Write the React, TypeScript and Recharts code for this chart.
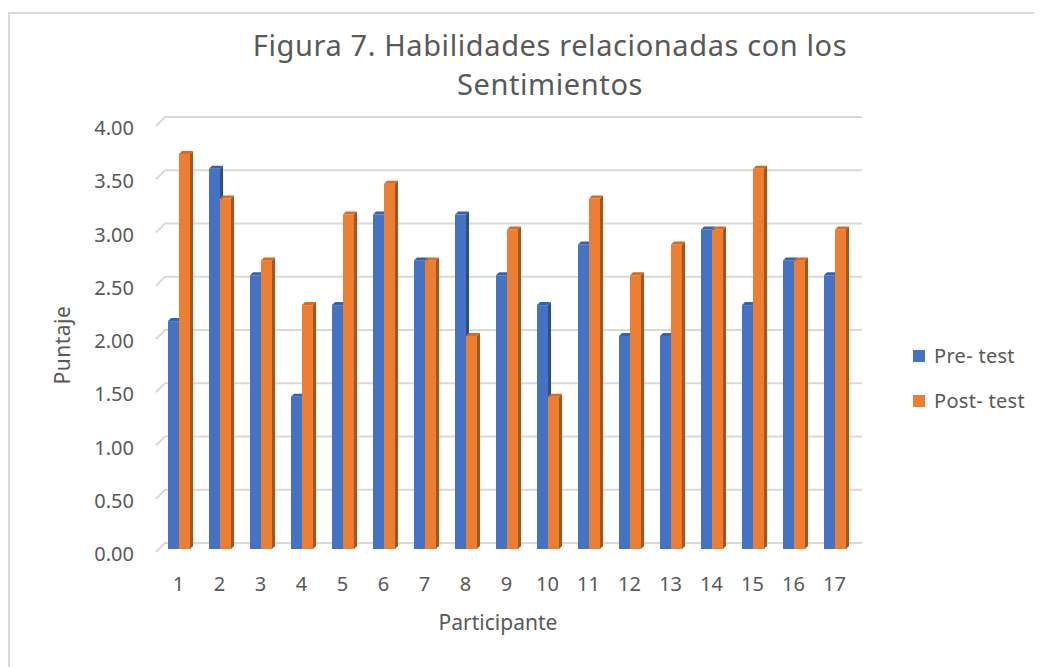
import { BarChart, Bar, XAxis, YAxis, CartesianGrid } from 'recharts';

const participants = ['1', '2', '3', '4', '5', '6', '7', '8', '9', '10', '11', '12', '13', '14', '15', '16', '17'];
const preTest = [2.14, 3.57, 2.57, 1.43, 2.29, 3.14, 2.71, 3.14, 2.57, 2.29, 2.86, 2.0, 2.0, 3.0, 2.29, 2.71, 2.57];
const postTest = [3.71, 3.29, 2.71, 2.29, 3.14, 3.43, 2.71, 2.0, 3.0, 1.43, 3.29, 2.57, 2.86, 3.0, 3.57, 2.71, 3.0];
const yTicks = [0, 0.5, 1, 1.5, 2, 2.5, 3, 3.5, 4];

const data = participants.map((p, i) => ({ p, pre: preTest[i], post: postTest[i] }));

const FONT = '"Noto Sans", sans-serif';
const TEXT = '#595959';
const DEPTH = 3;

function makeBar(front: string, top: string, side: string) {
  return (props: any) => {
    const { x, y, width, height } = props;
    if (!height) return null;
    const d = DEPTH;
    return (
      <g>
        <rect x={x} y={y} width={width} height={height} fill={front} />
        <polygon points={`${x},${y} ${x + d},${y - d} ${x + width + d},${y - d} ${x + width},${y}`} fill={top} />
        <polygon
          points={`${x + width},${y} ${x + width + d},${y - d} ${x + width + d},${y + height - d} ${x + width},${y + height}`}
          fill={side}
        />
      </g>
    );
  };
}

const blueBar = makeBar('#4472C4', '#3862B0', '#2C4E8A');
const orangeBar = makeBar('#ED7D31', '#D86B22', '#A6551D');

function gridLine(props: any) {
  const { x1, x2, y1 } = props;
  const y = y1;
  return (
    <path
      key={`g-${y}`}
      d={`M${x1 - 2},${y + 3} L${x1 + 7},${y - 6} L${x2 + 7},${y - 6}`}
      stroke="#D9D9D9"
      strokeWidth={2}
      fill="none"
    />
  );
}

const legendItems = [
  { label: 'Pre- test', color: '#4472C4' },
  { label: 'Post- test', color: '#ED7D31' },
];

export default function App() {
  return (
    <div
      style={{
        position: 'relative',
        marginTop: 4,
        width: 1032,
        height: 653,
        borderTop: '2px solid #DADADA',
        borderLeft: '2px solid #DADADA',
        fontFamily: FONT,
        color: TEXT,
      }}
    >
      <div
        style={{
          position: 'absolute',
          left: 140,
          top: 11,
          width: 800,
          textAlign: 'center',
          fontSize: 29,
          letterSpacing: 0.6,
          lineHeight: '39px',
        }}
      >
        <div>Figura 7. Habilidades relacionadas con los</div>
        <div>Sentimientos</div>
      </div>
      <div
        style={{
          position: 'absolute',
          left: 62 - 10 - 50,
          top: 345 - 14 - 14,
          width: 100,
          height: 28,
          lineHeight: '28px',
          textAlign: 'center',
          fontSize: 21,
          letterSpacing: 0.5,
          transform: 'rotate(-90deg)',
        }}
      >
        Puntaje
      </div>
      <div
        style={{
          position: 'absolute',
          left: 498 - 10 - 100,
          top: 608 - 14,
          width: 200,
          height: 28,
          lineHeight: '28px',
          textAlign: 'center',
          fontSize: 21,
        }}
      >
        Participante
      </div>
      <div style={{ position: 'absolute', left: 903, top: 319, fontSize: 20, letterSpacing: 0.3 }}>
        {legendItems.map((it) => (
          <div key={it.label} style={{ display: 'flex', alignItems: 'center', height: 45 }}>
            <span style={{ width: 12, height: 12, background: it.color, marginRight: 9, display: 'inline-block' }} />
            <span>{it.label}</span>
          </div>
        ))}
      </div>
      <BarChart
        width={1032}
        height={653}
        data={data}
        barSize={11}
        barGap={0}
        margin={{ top: 109, right: 187, left: 0, bottom: 78 }}
      >
        <CartesianGrid vertical={false} horizontal={gridLine} />
        <XAxis
          dataKey="p"
          height={40}
          axisLine={false}
          tickLine={false}
          tickSize={0}
          tickMargin={28}
          interval={0}
          tick={{ fill: TEXT, fontSize: 20, fontFamily: FONT }}
        />
        <YAxis
          width={148}
          domain={[0, 4]}
          ticks={yTicks}
          interval={0}
          axisLine={false}
          tickLine={false}
          tickSize={0}
          tickMargin={24}
          tickFormatter={(v: number) => v.toFixed(2)}
          tick={{ fill: TEXT, fontSize: 20, fontFamily: FONT, dy: 5 }}
        />
        <Bar dataKey="pre" name="Pre- test" fill="#4472C4" shape={blueBar} isAnimationActive={false} />
        <Bar dataKey="post" name="Post- test" fill="#ED7D31" shape={orangeBar} isAnimationActive={false} />
      </BarChart>
    </div>
  );
}
